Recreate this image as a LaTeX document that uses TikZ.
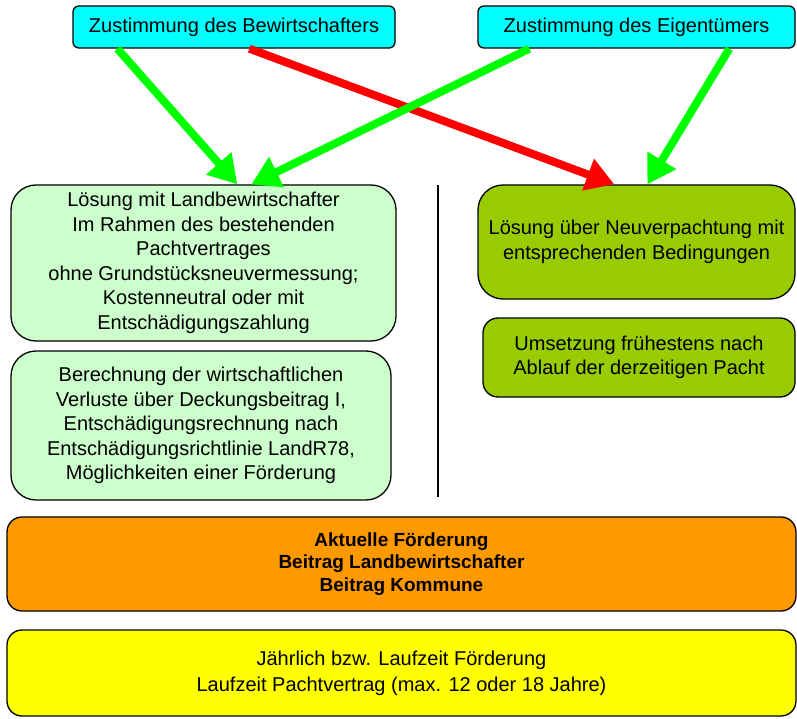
\documentclass[tikz,border=0pt]{standalone}
\usepackage{fontspec}
\setmainfont{Liberation Sans}
\usetikzlibrary{arrows.meta}
\definecolor{tuerkis}{HTML}{00FFFF}
\definecolor{hellgruen}{HTML}{CCFFCC}
\definecolor{oliv}{HTML}{99CC00}
\definecolor{orangefarbe}{HTML}{FF9900}
\definecolor{gelb}{HTML}{FFFF00}
\definecolor{pfeilgruen}{HTML}{00FF00}
\definecolor{pfeilrot}{HTML}{FF0000}
\begin{document}
\begin{tikzpicture}[x=1pt,y=-1pt,
    kasten/.style={draw=black, line width=1.3pt, align=center, inner sep=0pt,
      font=\fontsize{20}{24.5}\selectfont},
    pfeil/.style={line width=8pt, -{Triangle[width=32pt,length=28pt]}}]
    \useasboundingbox (0,0) rectangle (797,719);
    % Zustimmung
    \node[kasten, fill=tuerkis, rounded corners=6pt, minimum width=322pt, minimum height=42pt]
      (bew) at (234,27) {Zustimmung des Bewirtschafters};
    \node[kasten, fill=tuerkis, rounded corners=6pt, minimum width=317pt, minimum height=42pt]
      (eig) at (636.5,27) {Zustimmung des Eigentümers};
    % Loesung mit Landbewirtschafter
    \node[kasten, fill=hellgruen, rounded corners=25pt, minimum width=385pt, minimum height=156pt]
      (lbw) at (203.5,263) {Lösung mit Landbewirtschafter\\Im Rahmen des bestehenden\\Pachtvertrages\\ohne Grundstücksneuvermessung;\\Kostenneutral oder mit\\Entschädigungszahlung};
    \node[kasten, fill=hellgruen, rounded corners=25pt, minimum width=380pt, minimum height=149pt]
      (ber) at (201,425.5) {Berechnung der wirtschaftlichen\\Verluste über Deckungsbeitrag I,\\Entschädigungsrechnung nach\\Entschädigungsrichtlinie LandR78,\\Möglichkeiten einer Förderung};
    % Trennlinie
    \draw[line width=1.3pt] (438,185) -- (438,497);
    % Neuverpachtung
    \node[kasten, fill=oliv, rounded corners=25pt, minimum width=317pt, minimum height=114pt]
      (neu) at (636.5,242) {Lösung über Neuverpachtung mit\\entsprechenden Bedingungen};
    \node[kasten, fill=oliv, rounded corners=15pt, minimum width=312pt, minimum height=79pt]
      (ums) at (639,357.5) {Umsetzung frühestens nach\\Ablauf der derzeitigen Pacht};
    % Foerderung und Laufzeit
    \node[kasten, fill=orangefarbe, rounded corners=15pt, minimum width=789pt, minimum height=94pt,
      font=\fontsize{19}{22.5}\selectfont\bfseries]
      (foe) at (401.5,564) {Aktuelle Förderung\\Beitrag Landbewirtschafter\\Beitrag Kommune};
    \node[kasten, fill=gelb, rounded corners=15pt, minimum width=789pt, minimum height=86pt,
      font=\fontsize{20}{26}\selectfont]
      (lauf) at (401.5,673) {Jährlich bzw. Laufzeit Förderung\\Laufzeit Pachtvertrag (max. 12 oder 18 Jahre)};
    % Pfeile
    \coordinate (g1s) at ([xshift=45pt]bew.south west);
    \coordinate (rs)  at ([xshift=177pt]bew.south west);
    \coordinate (g2s) at ([xshift=52pt]eig.south west);
    \coordinate (g3s) at ([xshift=252pt]eig.south west);
    \coordinate (g1e) at ([xshift=227pt]lbw.north west);
    \coordinate (g2e) at ([xshift=241pt]lbw.north west);
    \coordinate (re)  at ([xshift=137pt]neu.north west);
    \coordinate (g3e) at ([xshift=170pt]neu.north west);
    \draw[pfeil, pfeilgruen] (g1s) -- (g1e);
    \draw[pfeil, pfeilrot] (rs) -- (re);
    \draw[pfeil, pfeilgruen] (g2s) -- (g2e);
    \draw[pfeil, pfeilgruen] (g3s) -- (g3e);
\end{tikzpicture}
\end{document}
